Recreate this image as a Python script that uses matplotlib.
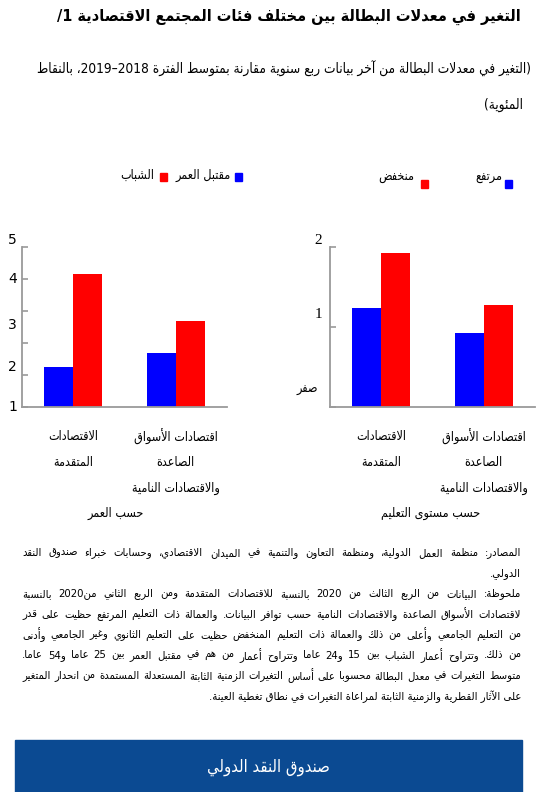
import re
import numpy as np
import matplotlib
matplotlib.use('Agg')
import matplotlib.pyplot as plt
import matplotlib.transforms as mtransforms
from matplotlib.patches import Rectangle

# data
categories = ['الاقتصادات\nالمتقدمة', 'اقتصادات الأسواق\nالصاعدة\nوالاقتصادات النامية']
age_prime = [1.26, 1.70]      # مقتبل العمر
age_youth = [4.15, 2.69]      # الشباب
edu_high = [1.24, 0.93]       # مرتفع
edu_low = [1.92, 1.27]        # منخفض

age_ticks = ['1', '2', '3', '4', '5']
edu_ticks = ['صفر', '1', '2']

title = 'التغير في معدلات البطالة بين مختلف فئات المجتمع الاقتصادية 1/'
subtitle = ['(التغير في معدلات البطالة من آخر بيانات ربع سنوية مقارنة بمتوسط الفترة 2018–2019، بالنقاط',
            'المئوية)']
notes = ['المصادر: منظمة العمل الدولية، ومنظمة التعاون والتنمية في الميدان الاقتصادي، وحسابات خبراء صندوق النقد',
         'الدولي.',
         'ملحوظة: البيانات من الربع الثالث من 2020 بالنسبة للاقتصادات المتقدمة ومن الربع الثاني من2020 بالنسبة',
         'لاقتصادات الأسواق الصاعدة والاقتصادات النامية حسب توافر البيانات. والعمالة ذات التعليم المرتفع حظيت على قدر',
         'من التعليم الجامعي وأعلى من ذلك والعمالة ذات التعليم المنخفض حظيت على التعليم الثانوي وغير الجامعي وأدنى',
         'من ذلك. وتتراوح أعمار الشباب بين 15 و24 عاما وتتراوح أعمار من هم في مقتبل العمر بين 25 عاما و54 عاما.',
         'متوسط التغيرات في معدل البطالة محسوبا على أساس التغيرات الزمنية الثابتة المستعدلة المستمدة من انحدار المتغير',
         'على الآثار القطرية والزمنية الثابتة لمراعاة التغيرات في نطاق تغطية العينة.']
justified = [True, False, True, True, True, True, True, False]

# --- minimal arabic shaping + right-to-left ordering (matplotlib has none) ---
LETTERS = 'ءآأؤإئابةتثجحخدذرزسشصضطظعغفقكلمنهوىي'
DUAL = 'ئبتثجحخسشصضطظعغفقكلمنهي'
FORMS = {}
code = 0xFE80
for ch in LETTERS:
    n = 1 if ch == 'ء' else (4 if ch in DUAL else 2)
    FORMS[ch] = [chr(code + i) for i in range(n)]
    code += n
LAMALEF = {'آ': 0xFEF5, 'أ': 0xFEF7, 'إ': 0xFEF9, 'ا': 0xFEFB}
MIRROR = str.maketrans('()', ')(')


def joins(c):
    return c is not None and c != 'ء' and (c in FORMS or c == 'LA')


def shape(s):
    chars = []
    i = 0
    while i < len(s):
        if s[i] == 'ل' and i + 1 < len(s) and s[i + 1] in LAMALEF:
            chars.append(('LA', s[i + 1]))
            i += 2
        else:
            chars.append((s[i], None))
            i += 1
    out = ''
    for k, (c, a) in enumerate(chars):
        prev = chars[k - 1][0] if k > 0 else None
        nxt = chars[k + 1][0] if k + 1 < len(chars) else None
        jp = joins(c) and prev in DUAL if prev else False
        jn = c in DUAL and joins(nxt)
        if c == 'LA':
            out += chr(LAMALEF[a] + (1 if jp else 0))
        elif c in FORMS:
            f = FORMS[c]
            if jp and jn:
                out += f[3]
            elif jp:
                out += f[1]
            elif jn:
                out += f[2]
            else:
                out += f[0]
        else:
            out += c
    return out


def ar(line):
    parts = re.split(r'(\d+(?:[.,/:]\d+)*)', line)
    out = ''
    for p in reversed(parts):
        if p and p[0].isdigit():
            out += p
        else:
            out += shape(p)[::-1].translate(MIRROR)
    return out


W, H = 537, 792
def fx(x): return x / W
def fy(y): return 1 - y / H

plt.rcParams['font.family'] = ['DejaVu Sans']
plt.rcParams['font.stretch'] = 'condensed'
fig = plt.figure(figsize=(W / 100, H / 100), dpi=100)
fig.patch.set_facecolor('white')
renderer = fig.canvas.get_renderer()


def fit_text(xr, yc, s, width, **kw):
    # right aligned text, font size scaled so it spans the width seen in the reference
    t = fig.text(fx(xr), fy(yc), s, ha='right', va='center', **kw)
    wd = t.get_window_extent(renderer).width
    t.set_fontsize(t.get_fontsize() * width / wd)
    return t


# header
fit_text(521, 17, ar(title), 466, fontsize=14, fontweight='bold')
sub = fit_text(531, 69, ar(subtitle[0]), 495, fontsize=9.5)
fig.text(fx(523), fy(105), ar(subtitle[1]), ha='right', va='center', fontsize=sub.get_fontsize())

BLUE, RED, GRAY = '#0000ff', '#ff0000', '#9a9a9a'
x = np.arange(len(categories))
w = 0.285


def panel(rect, blue_vals, red_vals, ymax):
    ax = fig.add_axes(rect)
    ax.bar(x - w / 2, blue_vals, w, color=BLUE)
    ax.bar(x + w / 2, red_vals, w, color=RED)
    ax.set_xlim(-0.5, 1.5)
    ax.set_ylim(0, ymax)
    ax.set_yticks(range(ymax + 1))
    ax.set_yticklabels([])
    ax.set_xticks([])
    for s in ['top', 'right']:
        ax.spines[s].set_visible(False)
    for s in ['left', 'bottom']:
        ax.spines[s].set_color(GRAY)
        ax.spines[s].set_linewidth(1.3)
    ax.tick_params(axis='y', direction='in', length=4, color=GRAY, width=1.2)
    tr = mtransforms.blended_transform_factory(ax.transData, fig.transFigure)
    for i, lab in enumerate(categories):
        for k, ln in enumerate(lab.split('\n')):
            ax.text(x[i], fy(437 + 25.5 * k), ar(ln), transform=tr, ha='center', va='center', fontsize=9)
    return ax


ax1 = panel([fx(22), fy(407), (227 - 22) / W, 160 / H], age_prime, age_youth, 5)
ax2 = panel([fx(330), fy(407), (535 - 330) / W, 160 / H], edu_high, edu_low, 2)

# y labels as drawn in the reference (not aligned with the ticks)
for lab, yy in zip(age_ticks, [407, 367, 325, 279, 240]):
    fig.text(fx(17), fy(yy), lab, ha='right', va='center', fontsize=10, stretch='normal')
fig.text(fx(318), fy(390), ar(edu_ticks[0]), ha='right', va='center', fontsize=9)
for lab, yy in zip(edu_ticks[1:], [315, 240]):
    fig.text(fx(322), fy(yy), lab, ha='right', va='center', fontsize=11, family='Liberation Serif')

fig.text(fx(116), fy(513), ar('حسب العمر'), ha='center', va='center', fontsize=9)
fig.text(fx(431), fy(513), ar('حسب مستوى التعليم'), ha='center', va='center', fontsize=9)


# legends
def key(xc, yc, color, label, xt, yt):
    fig.add_artist(Rectangle((fx(xc - 3.5), fy(yc + 3.5)), 7 / W, 7 / H, color=color,
                             transform=fig.transFigure))
    fig.text(fx(xt), fy(yt), ar(label), ha='right', va='center', fontsize=9)


key(238, 177, BLUE, 'مقتبل العمر', 231, 175)
key(163, 177, RED, 'الشباب', 154, 175)
key(508, 184, BLUE, 'مرتفع', 502, 177)
key(424, 184, RED, 'منخفض', 414, 177)

# notes, justified between x=22 and x=521
left, right = 22, 521
fs = 8.5
widest = 0
for line, just in zip(notes, justified):
    if just:
        t = fig.text(0, 0, ar(line), fontsize=fs)
        widest = max(widest, t.get_window_extent(renderer).width)
        t.remove()
fs = fs * (right - left) * 0.985 / widest

for j, (line, just) in enumerate(zip(notes, justified)):
    yy = fy(553 + 20.5 * j)
    vis = ar(line)
    if not just:
        fig.text(fx(right), yy, vis, ha='right', va='center', fontsize=fs)
        continue
    words = vis.split(' ')
    objs = [fig.text(0, yy, wd, ha='left', va='center', fontsize=fs) for wd in words]
    widths = [o.get_window_extent(renderer).width for o in objs]
    gap = (right - left - sum(widths)) / (len(words) - 1)
    pos = left
    for o, wd in zip(objs, widths):
        o.set_x(fx(pos))
        pos += wd + gap

# IMF banner
fig.add_artist(Rectangle((fx(15), 0), (522 - 15) / W, 52 / H, color='#0b4a92',
                         transform=fig.transFigure))
fig.text(fx(268), fy(767), ar('صندوق النقد الدولي'), ha='center', va='center',
         fontsize=12, color='white')

fig.savefig('out.png', dpi=100)
